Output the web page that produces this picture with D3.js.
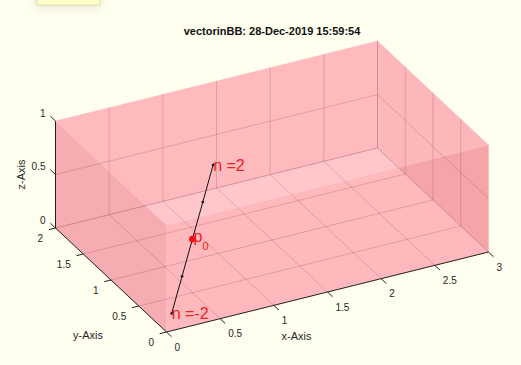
<!DOCTYPE html>
<html>
<head>
<meta charset="utf-8">
<script src="https://cdn.jsdelivr.net/npm/d3@7"></script>
<style>
  html, body { margin: 0; padding: 0; background: #ffffef; }
  svg { display: block; font-family: "Liberation Sans", Arial, Helvetica, sans-serif; }
</style>
</head>
<body>
<svg id="chart" width="521" height="365"></svg>
<script>
// ---- data ----
const titleText = "vectorinBB: 28-Dec-2019 15:59:54";
const xLim = [0, 3];
const yLim = [0, 2];
const zLim = [0, 1];
const xTicks = [0, 0.5, 1, 1.5, 2, 2.5, 3];
const yTicks = [0, 0.5, 1, 1.5, 2];
const zTicks = [0, 0.5, 1];
const xTickLabels = ["0", "0.5", "1", "1.5", "2", "2.5", "3"];
const yTickLabels = ["0", "0.5", "1", "1.5", "2"];
const zTickLabels = ["0", "0.5", "1"];
const p0 = [0.5, 0.5, 0.5];
const dirVec = [0.2, 0.2, 0.2];
const nValues = [-2, -1, 0, 1, 2];
const nLabelled = [2, -2];

// ---- projection through d3 linear scales ----
const sx = d3.scaleLinear().domain(xLim).range([0, 1]);
const sy = d3.scaleLinear().domain(yLim).range([0, 1]);
const sz = d3.scaleLinear().domain(zLim).range([0, 1]);
const O = [166.5, 332], ex = [322, -80], ey = [-111, -104], ez = [0, -107];
function P(p) {
  const a = sx(p[0]), b = sy(p[1]), c = sz(p[2]);
  return [O[0] + a * ex[0] + b * ey[0] + c * ez[0], O[1] + a * ex[1] + b * ey[1] + c * ez[1]];
}

const svg = d3.select("#chart");
const defs = svg.append("defs");
const f = defs.append("filter").attr("id", "shadow").attr("x", "-30%").attr("y", "-100%").attr("width", "160%").attr("height", "400%");
f.append("feGaussianBlur").attr("stdDeviation", 5);

svg.append("rect").attr("width", 521).attr("height", 365).attr("fill", "#ffffef");

// small tooltip-like box at top
svg.append("rect").attr("x", 36).attr("y", -8).attr("width", 64).attr("height", 14)
  .attr("fill", "#bdbd9a").attr("opacity", 0.55).attr("filter", "url(#shadow)");
svg.append("rect").attr("x", 37).attr("y", -4).attr("width", 63).attr("height", 9)
  .attr("fill", "#ffffcc").attr("stroke", "#d8d8b0").attr("stroke-width", 0.8);

// ---- box faces ----
const [x0, x1] = xLim, [y0, y1] = yLim, [z0, z1] = zLim;
const faces = {
  L: [[x0,y0,z0],[x0,y1,z0],[x0,y1,z1],[x0,y0,z1]],
  F: [[x0,y0,z0],[x1,y0,z0],[x1,y0,z1],[x0,y0,z1]],
  T: [[x0,y0,z1],[x1,y0,z1],[x1,y1,z1],[x0,y1,z1]],
  B: [[x0,y1,z0],[x1,y1,z0],[x1,y1,z1],[x0,y1,z1]],
  R: [[x1,y0,z0],[x1,y1,z0],[x1,y1,z1],[x1,y0,z1]],
  D: [[x0,y0,z0],[x1,y0,z0],[x1,y1,z0],[x0,y1,z0]]
};
const regionColor = {
  LB: "#f6acb0", LD: "#f6acb0",
  TB: "#ffbabe", TR: "#fdb7bb", TD: "#ffc7c9",
  FD: "#ffb9bc", FR: "#f5a5a9"
};
function clip(subject, clipPoly) {
  const c = d3.polygonCentroid(clipPoly);
  let out = subject.slice();
  for (let i = 0; i < clipPoly.length && out.length; i++) {
    const A = clipPoly[i], Bp = clipPoly[(i + 1) % clipPoly.length];
    const side = q => (Bp[0]-A[0])*(q[1]-A[1]) - (Bp[1]-A[1])*(q[0]-A[0]);
    const s0 = side(c);
    const inside = q => side(q) * s0 >= -1e-9;
    const inp = out; out = [];
    for (let j = 0; j < inp.length; j++) {
      const cur = inp[j], prev = inp[(j + inp.length - 1) % inp.length];
      const ci = inside(cur), pi = inside(prev);
      const inter = () => {
        const s1 = side(prev), s2 = side(cur), t = s1 / (s1 - s2);
        return [prev[0] + t*(cur[0]-prev[0]), prev[1] + t*(cur[1]-prev[1])];
      };
      if (ci) { if (!pi) out.push(inter()); out.push(cur); }
      else if (pi) out.push(inter());
    }
  }
  return out;
}
const regions = [];
["L","F","T"].forEach(fr => ["B","R","D"].forEach(bk => {
  const key = fr + bk;
  if (!regionColor[key]) return;
  const poly = clip(faces[fr].map(P), faces[bk].map(P));
  if (poly.length > 2 && Math.abs(d3.polygonArea(poly)) > 0.5) regions.push({key, poly});
}));
svg.append("g").selectAll("path").data(regions).join("path")
  .attr("d", d => "M" + d.poly.map(p => p.join(",")).join("L") + "Z")
  .attr("fill", d => regionColor[d.key])
  .attr("stroke", d => regionColor[d.key]).attr("stroke-width", 0.4);

// ---- grid lines on back planes ----
const grid = [];
xTicks.filter(t => t > x0 && t < x1).forEach(t => {
  grid.push([[t,y0,z0],[t,y1,z0]]);      // floor
  grid.push([[t,y1,z0],[t,y1,z1]]);      // back wall
});
yTicks.filter(t => t > y0 && t < y1).forEach(t => {
  grid.push([[x0,t,z0],[x1,t,z0]]);      // floor
  grid.push([[x1,t,z0],[x1,t,z1]]);      // right wall
});
zTicks.filter(t => t > z0 && t < z1).forEach(t => {
  grid.push([[x0,y1,t],[x1,y1,t]]);
  grid.push([[x1,y0,t],[x1,y1,t]]);
});
const backEdges = [
  [[x1,y1,z0],[x1,y1,z1]],
  [[x0,y1,z0],[x1,y1,z0]],
  [[x1,y0,z0],[x1,y1,z0]]
];
svg.append("g").selectAll("line").data(grid).join("line")
  .attr("x1", d => P(d[0])[0]).attr("y1", d => P(d[0])[1])
  .attr("x2", d => P(d[1])[0]).attr("y2", d => P(d[1])[1])
  .attr("stroke", "rgba(120,50,55,0.24)").attr("stroke-width", 0.9);
svg.append("g").selectAll("line").data(backEdges).join("line")
  .attr("x1", d => P(d[0])[0]).attr("y1", d => P(d[0])[1])
  .attr("x2", d => P(d[1])[0]).attr("y2", d => P(d[1])[1])
  .attr("stroke", "rgba(110,40,45,0.36)").attr("stroke-width", 0.9);

// ---- axes ----
const axes = svg.append("g").attr("stroke", "#222").attr("stroke-width", 1);
const axisLines = [
  [[x0,y0,z0],[x1,y0,z0]],
  [[x0,y0,z0],[x0,y1,z0]],
  [[x0,y1,z0],[x0,y1,z1]]
];
axes.selectAll("line.ax").data(axisLines).join("line").attr("class", "ax")
  .attr("x1", d => P(d[0])[0]).attr("y1", d => P(d[0])[1])
  .attr("x2", d => P(d[1])[0]).attr("y2", d => P(d[1])[1]);

function unit(v) { const l = Math.hypot(v[0], v[1]); return [v[0]/l, v[1]/l]; }
const tickLen = 7;
const xDir = unit([-ey[0], -ey[1]]);
const yDir = unit([-ex[0], -ex[1]]);
const zDir = unit([ey[0], ey[1]]);
function drawTicks(pts, dir) {
  axes.append("g").selectAll("line").data(pts).join("line")
    .attr("x1", d => P(d)[0]).attr("y1", d => P(d)[1])
    .attr("x2", d => P(d)[0] + dir[0]*tickLen).attr("y2", d => P(d)[1] + dir[1]*tickLen);
}
drawTicks(xTicks.map(t => [t,y0,z0]), xDir);
drawTicks(yTicks.map(t => [x0,t,z0]), yDir);
drawTicks(zTicks.map(t => [x0,y1,t]), zDir);

const lab = svg.append("g").attr("font-size", 10).attr("fill", "#262626");
lab.append("g").selectAll("text").data(xTicks).join("text")
  .attr("x", d => P([d,y0,z0])[0] + 8).attr("y", d => P([d,y0,z0])[1] + 18.5)
  .attr("text-anchor", "start").text((d, i) => xTickLabels[i]);
lab.append("g").selectAll("text").data(yTicks).join("text")
  .attr("x", d => P([x0,d,z0])[0] - 12.5).attr("y", d => P([x0,d,z0])[1] + 13.5)
  .attr("text-anchor", "end").text((d, i) => yTickLabels[i]);
lab.append("g").selectAll("text").data(zTicks).join("text")
  .attr("x", d => P([x0,y1,d])[0] - 10).attr("y", d => P([x0,y1,d])[1] - 4.5)
  .attr("text-anchor", "end").text((d, i) => zTickLabels[i]);

// axis titles
const xl = P([(x0+x1)/2, y0, z0]), yl = P([x0, (y0+y1)/2, z0]), zl = P([x0, y1, (z0+z1)/2]);
const at = svg.append("g").attr("font-size", 11).attr("fill", "#262626").attr("text-anchor", "middle");
at.append("text").attr("x", xl[0] - 31).attr("y", xl[1] + 48).text("x-Axis");
at.append("text").attr("x", yl[0] - 23).attr("y", yl[1] + 59).text("y-Axis");
at.append("text").attr("transform", `translate(${zl[0] - 31},${zl[1]}) rotate(-90)`).text("z-Axis");

// title
svg.append("text").attr("x", 272).attr("y", 34.5).attr("text-anchor", "middle")
  .attr("font-size", 11).attr("font-weight", "bold").attr("fill", "#111").text(titleText);

// ---- vector p0 + n*v ----
const vpts = nValues.map(n => [p0[0] + n*dirVec[0], p0[1] + n*dirVec[1], p0[2] + n*dirVec[2]]);
svg.append("path").attr("d", d3.line()(vpts.map(P)))
  .attr("fill", "none").attr("stroke", "#111").attr("stroke-width", 1);
svg.append("g").selectAll("circle").data(vpts).join("circle")
  .attr("cx", d => P(d)[0]).attr("cy", d => P(d)[1]).attr("r", 1.4).attr("fill", "#222");
const pp = P(p0);
svg.append("circle").attr("cx", pp[0]).attr("cy", pp[1]).attr("r", 3.3).attr("fill", "#ee1111");

const red = "#ee2222";
const rt = svg.append("g").attr("fill", red).attr("font-size", 16);
rt.selectAll("text.n").data(nLabelled).join("text").attr("class", "n")
  .attr("x", n => P([p0[0]+n*dirVec[0], p0[1]+n*dirVec[1], p0[2]+n*dirVec[2]])[0])
  .attr("y", n => P([p0[0]+n*dirVec[0], p0[1]+n*dirVec[1], p0[2]+n*dirVec[2]])[1] + 6)
  .text(n => "n =" + n);
const pt = rt.append("text").attr("x", pp[0] + 1).attr("y", pp[1] + 2.8);
pt.append("tspan").text("p");
pt.append("tspan").attr("font-size", 11.5).attr("dy", 8).text("0");
</script>
</body>
</html>
